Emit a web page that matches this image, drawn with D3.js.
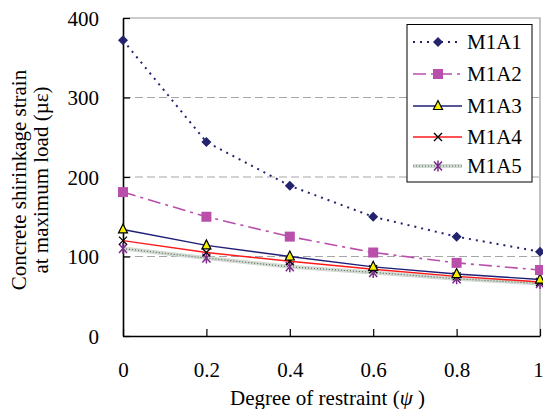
<!DOCTYPE html>
<html>
<head>
<meta charset="utf-8">
<script src="https://cdn.jsdelivr.net/npm/d3@7"></script>
<style>
  body { margin: 0; background: #fff; }
  svg { display: block; }
</style>
</head>
<body>
<svg id="chart" width="543" height="409"></svg>
<script>
// Degree of restraint (x) and shrinkage strain (µε) for each mix
const restraint = [0, 0.2, 0.4, 0.6, 0.8, 1];
const m1a1 = [372, 244, 189, 150, 125, 106];
const m1a2 = [181, 150, 125, 105, 92, 83];
const m1a3 = [134, 114, 100, 87, 78, 71];
const m1a4 = [120, 105, 94, 84, 75, 68];
const m1a5 = [110, 98, 87, 80, 72, 66];
const seriesNames = ["M1A1", "M1A2", "M1A3", "M1A4", "M1A5"];
const xTicks = [0, 0.2, 0.4, 0.6, 0.8, 1];
const xTickLabels = ["0", "0.2", "0.4", "0.6", "0.8", "1"];
const yTicks = [0, 100, 200, 300, 400];

const FONT = "'Liberation Serif', 'Times New Roman', Times, 'DejaVu Serif', serif";
const FS = "21px";
const svg = d3.select("#chart");
const m = { left: 123, right: 540, top: 18, bottom: 336 };

const x = d3.scaleLinear().domain([0, 1]).range([m.left, m.right]);
const y = d3.scaleLinear().domain([0, 400]).range([m.bottom, m.top]);

// dashed horizontal grid
svg.append("g").selectAll("line").data([100, 200, 300]).join("line")
  .attr("x1", m.left).attr("x2", m.right)
  .attr("y1", d => y(d)).attr("y2", d => y(d))
  .attr("stroke", "#a6a6a6").attr("stroke-width", 1.2)
  .attr("stroke-dasharray", "8,4");

// plot frame: grey top/right
svg.append("path")
  .attr("d", `M${m.left},${m.top}H${m.right}V${m.bottom}`)
  .attr("fill", "none").attr("stroke", "#9a9a9a").attr("stroke-width", 1.2);

// axes with inward ticks
const yAxis = d3.axisLeft(y).tickValues(yTicks).tickSizeInner(-7).tickSizeOuter(0).tickPadding(24);
const gy = svg.append("g").attr("transform", `translate(${m.left},0)`).call(yAxis);
const xAxis = d3.axisBottom(x).tickValues(xTicks).tickFormat((d, i) => xTickLabels[i])
  .tickSizeInner(-7).tickSizeOuter(0).tickPadding(26);
const gx = svg.append("g").attr("transform", `translate(0,${m.bottom})`).call(xAxis);
[gx, gy].forEach(g => {
  g.attr("font-family", null);
  g.select(".domain").attr("stroke", "#000").attr("stroke-width", 1.6);
  g.selectAll(".tick line").attr("stroke", "#000").attr("stroke-width", 1.2);
  g.selectAll(".tick text").attr("fill", "#000")
    .style("font-family", FONT).style("font-size", FS);
});
gy.selectAll(".tick text").attr("dy", "0.34em");
gx.selectAll(".tick text").filter(d => d === 1).attr("dx", -2);

// axis titles
svg.append("text").attr("x", 230).attr("y", 405).attr("text-anchor", "start")
  .style("font-family", FONT).style("font-size", FS).attr("fill", "#000")
  .html('Degree of restraint (<tspan font-style="italic">ψ</tspan> )');
const yt = svg.append("text").attr("transform", "translate(26,180) rotate(-90)")
  .style("font-family", FONT).style("font-size", FS)
  .attr("text-anchor", "middle").attr("fill", "#000");
yt.append("tspan").attr("x", 0).attr("dy", 0).text("Concrete shirinkage strain");
yt.append("tspan").attr("x", 0).attr("dy", 22).text("at maximum load (µε)");

// series styling
const styles = [
  { data: m1a1, color: "#24246e", width: 2, dash: "2,5", marker: "diamond" },
  { data: m1a2, color: "#b94fab", width: 1.6, dash: "13,5,3,5", marker: "square" },
  { data: m1a3, color: "#1e1e78", width: 1.4, dash: null, marker: "triangle" },
  { data: m1a4, color: "#ff1a1a", width: 1.4, dash: null, marker: "cross" },
  { data: m1a5, color: "#7b7b7b", width: 4, dash: null, marker: "star", textured: true }
];

const line = d3.line().x((d, i) => x(restraint[i])).y(d => y(d));

function drawMarker(g, type, cx, cy) {
  if (type === "diamond") {
    g.append("path").attr("d", `M${cx},${cy - 5}L${cx + 5},${cy}L${cx},${cy + 5}L${cx - 5},${cy}Z`)
      .attr("fill", "#24246e");
  } else if (type === "square") {
    g.append("rect").attr("x", cx - 5).attr("y", cy - 5).attr("width", 10).attr("height", 10)
      .attr("fill", "#b94fab");
  } else if (type === "triangle") {
    g.append("path").attr("d", `M${cx},${cy - 5.5}L${cx + 4.5},${cy + 3.5}L${cx - 4.5},${cy + 3.5}Z`)
      .attr("fill", "#f5f000").attr("stroke", "#000").attr("stroke-width", 1.2);
  } else if (type === "cross") {
    g.append("path").attr("d", `M${cx - 4},${cy - 4}L${cx + 4},${cy + 4}M${cx + 4},${cy - 4}L${cx - 4},${cy + 4}`)
      .attr("stroke", "#000").attr("stroke-width", 1.3);
  } else if (type === "star") {
    g.append("path").attr("d", `M${cx - 4},${cy - 4.5}L${cx + 4},${cy + 4.5}M${cx + 4},${cy - 4.5}L${cx - 4},${cy + 4.5}M${cx},${cy - 5.5}V${cy + 5.5}`)
      .attr("stroke", "#7b2a8a").attr("stroke-width", 1.5);
  }
}

function drawStroke(g, s, pathD) {
  if (s.textured) {
    g.append("path").attr("d", pathD).attr("fill", "none")
      .attr("stroke", "#d3d9d3").attr("stroke-width", 4);
    g.append("path").attr("d", pathD).attr("fill", "none")
      .attr("stroke", "#4e6a4e").attr("stroke-width", 1.1).attr("stroke-dasharray", "1,2");
  } else {
    g.append("path").attr("d", pathD).attr("fill", "none")
      .attr("stroke", s.color).attr("stroke-width", s.width)
      .attr("stroke-dasharray", s.dash);
  }
}

// draw lower series first so M1A1 sits on top
const plot = svg.append("g");
styles.slice().reverse().forEach(s => {
  const g = plot.append("g");
  drawStroke(g, s, line(s.data));
  s.data.forEach((v, i) => drawMarker(g, s.marker, x(restraint[i]), y(v)));
});

// legend
const lg = svg.append("g");
lg.append("rect").attr("x", 407).attr("y", 24.5).attr("width", 125).attr("height", 157.5)
  .attr("fill", "#fff").attr("stroke", "#000").attr("stroke-width", 1);
const legendY = [42, 74, 106, 137, 166];
styles.forEach((s, i) => {
  const g = lg.append("g");
  const ly = legendY[i];
  drawStroke(g, s, `M413,${ly}H462`);
  drawMarker(g, s.marker, 438, ly);
  g.append("text").attr("x", 467).attr("y", ly).attr("dy", "0.35em")
    .style("font-family", FONT).style("font-size", FS)
    .attr("fill", "#000").text(seriesNames[i]);
});
</script>
</body>
</html>
